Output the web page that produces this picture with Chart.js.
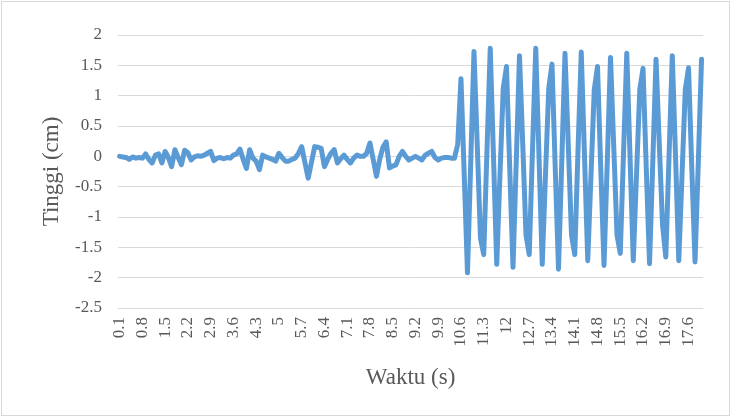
<!DOCTYPE html>
<html>
<head>
<meta charset="utf-8">
<script src="https://cdn.jsdelivr.net/npm/chart.js@4.4.1/dist/chart.umd.min.js"></script>
<style>
  html, body { margin: 0; padding: 0; background: #ffffff; }
  #wrap { width: 731px; height: 417px; position: relative; }
</style>
</head>
<body>
<div id="wrap"><canvas id="c" width="731" height="417"></canvas></div>
<script>
// Time stamps (s)
const waktu = [
  0.1,0.2,0.3,0.4,0.5,0.6,0.7,0.8,0.9,1,
  1.1,1.2,1.3,1.4,1.5,1.6,1.7,1.8,1.9,2,
  2.1,2.2,2.3,2.4,2.5,2.6,2.7,2.8,2.9,3,
  3.1,3.2,3.3,3.4,3.5,3.6,3.7,3.8,3.9,4,
  4.1,4.2,4.3,4.4,4.5,4.6,4.7,4.8,4.9,5,
  5.1,5.2,5.3,5.4,5.5,5.6,5.7,5.8,5.9,6,
  6.1,6.2,6.3,6.4,6.5,6.6,6.7,6.8,6.9,7,
  7.1,7.2,7.3,7.4,7.5,7.6,7.7,7.8,7.9,8,
  8.1,8.2,8.3,8.4,8.5,8.6,8.7,8.8,8.9,9,
  9.1,9.2,9.3,9.4,9.5,9.6,9.7,9.8,9.9,10,
  10.1,10.2,10.3,10.4,10.5,10.6,10.7,10.8,10.9,11,
  11.1,11.2,11.3,11.4,11.5,11.6,11.7,11.8,11.9,12,
  12.1,12.2,12.3,12.4,12.5,12.6,12.7,12.8,12.9,13,
  13.1,13.2,13.3,13.4,13.5,13.6,13.7,13.8,13.9,14,
  14.1,14.2,14.3,14.4,14.5,14.6,14.7,14.8,14.9,15,
  15.1,15.2,15.3,15.4,15.5,15.6,15.7,15.8,15.9,16,
  16.1,16.2,16.3,16.4,16.5,16.6,16.7,16.8,16.9,17,
  17.1,17.2,17.3,17.4,17.5,17.6,17.7,17.8,17.9,18
];

// Water height (cm)
const tinggi = [
  0.00,-0.01,-0.02,-0.05,-0.01,-0.03,-0.02,-0.03,0.04,-0.05,
  -0.11,0.02,0.04,-0.11,0.08,-0.02,-0.17,0.11,-0.02,-0.14,
  0.10,0.06,-0.06,-0.01,0.01,0.00,0.02,0.05,0.08,-0.07,
  -0.03,-0.02,-0.04,-0.02,-0.03,0.02,0.04,0.12,-0.05,-0.20,
  0.11,-0.03,-0.08,-0.22,0.02,-0.01,-0.03,-0.05,-0.08,0.05,
  -0.02,-0.08,-0.08,-0.05,-0.03,0.05,0.16,-0.10,-0.36,-0.10,
  0.16,0.15,0.13,-0.17,-0.05,0.05,0.11,-0.11,-0.04,0.02,
  -0.05,-0.11,-0.03,0.02,0.00,0.00,0.05,0.22,-0.05,-0.33,
  -0.05,0.15,0.24,-0.19,-0.16,-0.14,0.00,0.08,0.00,-0.06,
  -0.03,0.00,-0.03,-0.06,0.02,0.05,0.08,-0.02,-0.06,-0.03,
  -0.02,-0.02,-0.03,-0.03,0.20,1.28,-0.30,-1.92,-0.10,1.73,
  0.20,-1.35,-1.62,0.10,1.78,0.00,-1.78,-0.30,1.12,1.48,
  -0.20,-1.83,-0.10,1.66,0.20,-1.30,-1.62,0.10,1.78,0.00,
  -1.78,-0.30,1.12,1.52,-0.20,-1.86,-0.10,1.70,0.20,-1.30,
  -1.62,0.10,1.72,0.00,-1.72,-0.30,1.10,1.48,-0.20,-1.80,
  -0.10,1.63,0.15,-1.30,-1.60,0.05,1.70,0.00,-1.72,-0.30,
  1.10,1.45,-0.20,-1.77,-0.10,1.60,0.20,-1.13,-1.66,0.00,
  1.66,0.00,-1.72,-0.30,1.10,1.46,-0.20,-1.74,-0.10,1.60
];

// Axis settings
const yMin = -2.5, yMax = 2, yStep = 0.5;
const labelEvery = 7;

const FONT = '"Liberation Serif", "Times New Roman", serif';
const TEXT = '#595959';
const GRID = '#d9d9d9';
const LINE = '#5b9bd5';

// White background and thin frame around the whole chart
const framePlugin = {
  id: 'frame',
  beforeDraw(chart) {
    const ctx = chart.ctx;
    ctx.save();
    ctx.fillStyle = '#ffffff';
    ctx.fillRect(0, 0, chart.width, chart.height);
    ctx.strokeStyle = GRID;
    ctx.lineWidth = 1;
    ctx.strokeRect(1.5, 1.5, chart.width - 3, chart.height - 3);
    ctx.restore();
  }
};

new Chart(document.getElementById('c'), {
  type: 'line',
  data: {
    labels: waktu.map(String),
    datasets: [{
      data: tinggi,
      borderColor: LINE,
      borderWidth: 5,
      pointRadius: 0,
      tension: 0,
      fill: false,
      borderJoinStyle: 'round',
      borderCapStyle: 'round'
    }]
  },
  options: {
    responsive: false,
    animation: false,
    layout: { padding: { top: 35, right: 21, bottom: 0, left: 0 } },
    plugins: { legend: { display: false }, tooltip: { enabled: false } },
    scales: {
      x: {
        offset: true,
        grid: { display: false, drawTicks: false },
        border: { display: false },
        ticks: {
          autoSkip: false,
          maxRotation: 90,
          minRotation: 90,
          padding: 9,
          color: TEXT,
          font: { family: FONT, size: 17 },
          callback(value, index) {
            return index % labelEvery === 0 ? this.getLabelForValue(value) : '';
          }
        },
        title: {
          display: true,
          text: 'Waktu (s)',
          color: TEXT,
          font: { family: FONT, size: 23 },
          padding: { top: 0, bottom: 25 }
        },
        afterFit(scale) { scale.height = 109; }
      },
      y: {
        min: yMin,
        max: yMax,
        grid: { color: GRID, lineWidth: 1, drawTicks: false },
        border: { display: false },
        ticks: {
          stepSize: yStep,
          padding: 16,
          color: TEXT,
          font: { family: FONT, size: 17 },
          callback(value) { return String(Math.round(value * 10) / 10); }
        },
        title: {
          display: true,
          text: 'Tinggi (cm)',
          color: TEXT,
          font: { family: FONT, size: 23 },
          padding: { top: 38, bottom: 0 }
        },
        afterFit(scale) { scale.width = 118; }
      }
    }
  },
  plugins: [framePlugin]
});
</script>
</body>
</html>
